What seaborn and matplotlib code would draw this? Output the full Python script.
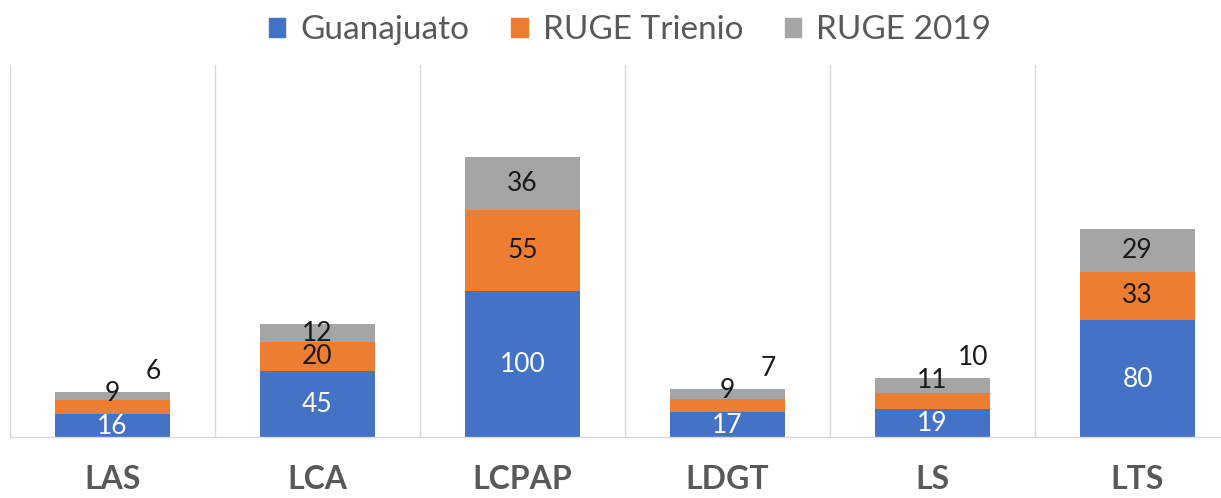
import matplotlib
matplotlib.use("Agg")
import matplotlib.pyplot as plt
import seaborn as sns
import numpy as np
from matplotlib.patches import Patch

categories = ["LAS", "LCA", "LCPAP", "LDGT", "LS", "LTS"]
guanajuato = [16, 45, 100, 17, 19, 80]
ruge_trienio = [9, 20, 55, 9, 11, 33]
ruge_2019 = [6, 12, 36, 7, 10, 29]
series_names = ["Guanajuato", "RUGE Trienio", "RUGE 2019"]

c_blue, c_orange, c_gray = "#4472C4", "#ED7D31", "#A5A5A5"

sns.set_theme(style="white")
plt.rcParams["font.family"] = ["Lato", "DejaVu Sans"]

fig = plt.figure(figsize=(12.21, 4.98), dpi=100)
ax = fig.add_axes([10 / 1221, (498 - 437) / 498, 1230 / 1221, (437 - 65) / 498])

g = np.array(guanajuato)
o = np.array(ruge_trienio)
r = np.array(ruge_2019)
tot = g + o + r
mid = g + o

w = 0.56
sns.barplot(x=categories, y=tot, color=c_gray, width=w, saturation=1, ax=ax, linewidth=0)
sns.barplot(x=categories, y=mid, color=c_orange, width=w, saturation=1, ax=ax, linewidth=0)
sns.barplot(x=categories, y=g, color=c_blue, width=w, saturation=1, ax=ax, linewidth=0)

ax.set_ylim(0, 254)
ax.set_xlim(-0.5, 5.5)
ax.set_yticks([])
ax.set_xlabel("")
ax.set_ylabel("")

# category separators
for xb in np.arange(-0.5, 6.0, 1.0):
    ax.axvline(xb, color="#D9D9D9", lw=1, zorder=0)
for s in ["top", "right", "left"]:
    ax.spines[s].set_visible(False)
ax.spines["bottom"].set_color("#D9D9D9")
ax.spines["bottom"].set_linewidth(1)

ax.tick_params(axis="x", length=0, pad=20)
for lab in ax.get_xticklabels():
    lab.set_fontsize(23)
    lab.set_fontweight("bold")
    lab.set_color("#595959")

fs = 19
small = {0, 3, 4}
for i in range(len(categories)):
    ax.text(i, g[i] / 2 - 0.5, str(g[i]), ha="center", va="center", color="white", fontsize=fs)
    if i in small:
        ax.text(i, tot[i] - 1.5, str(o[i]), ha="center", va="center", color="#1a1a1a", fontsize=fs)
        ax.text(i + 0.2, tot[i] + 14, str(r[i]), ha="center", va="center", color="#1a1a1a", fontsize=fs)
    else:
        ax.text(i, g[i] + o[i] / 2, str(o[i]), ha="center", va="center", color="#1a1a1a", fontsize=fs)
        ax.text(i, mid[i] + r[i] / 2, str(r[i]), ha="center", va="center", color="#1a1a1a", fontsize=fs)

handles = [Patch(color=c) for c in (c_blue, c_orange, c_gray)]
fig.legend(handles, series_names, loc="upper center", bbox_to_anchor=(0.516, 1.03), ncol=3,
           frameon=False, fontsize=24, handlelength=0.5, handleheight=0.5,
           handletextpad=0.45, columnspacing=1.25, labelcolor="#595959")

fig.savefig("out.png", dpi=100)
